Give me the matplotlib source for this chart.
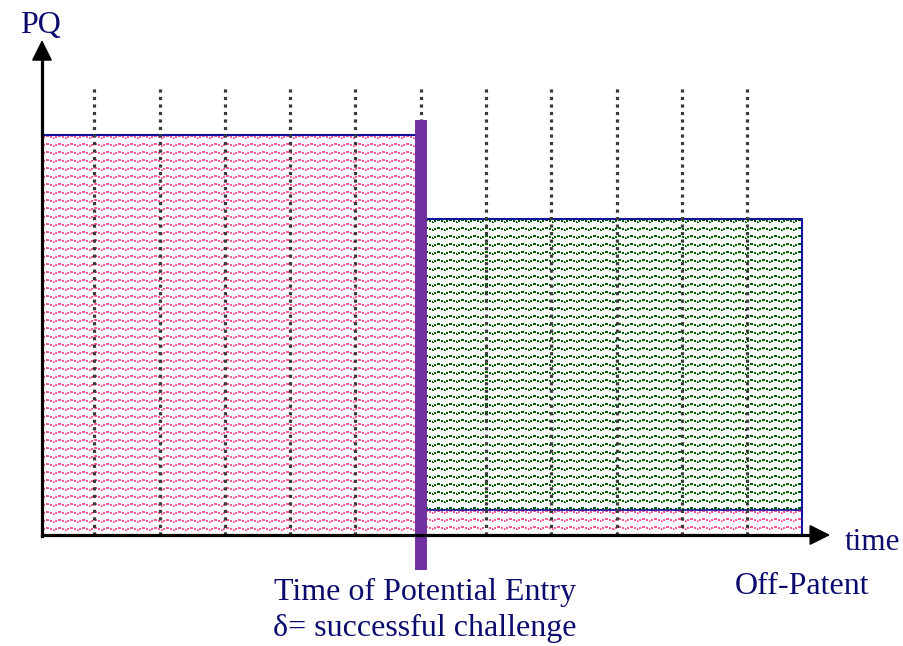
import numpy as np
import matplotlib
matplotlib.use("Agg")
import matplotlib.pyplot as plt

# time axis: dotted lines mark each period
period_marks = [1, 2, 3, 4, 5, 6, 7, 8, 9, 10, 11]
axis_start = 0.2
entry_time = 6.0
off_patent_time = 11.84

# revenue (PQ) levels
pq_monopoly = 100
pq_brand_after_entry = 79
pq_generic = 6.25
dotted_top = 111.75

labels = {
    "y": "PQ",
    "x": "time",
    "entry1": "Time of Potential Entry",
    "entry2": "δ= successful challenge",
    "off": "Off-Patent",
}

navy = "#0b0b6e"
outline = "#10109a"
pink = "#ff5a96"
green = "#006000"
purple = "#7030a0"

plt.rcParams["font.family"] = ["Liberation Serif", "DejaVu Serif"]

fig = plt.figure(figsize=(9.04, 6.46), dpi=100)
ax = fig.add_axes([0, 0, 1, 1])
ax.set_xlim(-0.443, 13.40)
ax.set_ylim(-27.75, 133.75)
ax.axis("off")


def wave_texture(x0, x1, y0, y1, color, rows=8):
    # pixel texture of small dashed waves filling the rectangle
    p0 = ax.transData.transform((x0, y0))
    p1 = ax.transData.transform((x1, y1))
    w = int(round(abs(p1[0] - p0[0])))
    h = int(round(abs(p1[1] - p0[1])))
    tile = np.zeros((rows, 12))
    tile[0:2, 4:7] = 1
    tile[1:3, 1:3] = 1
    tile[1:3, 8:10] = 1
    tile[2:4, 11] = 1
    tile[3, 0] = 1
    mask = np.tile(tile, (h // rows + 2, w // 12 + 2))[:h, :w]
    rgba = np.zeros((h, w, 4))
    rgba[..., :3] = matplotlib.colors.to_rgb(color)
    rgba[..., 3] = mask
    ax.imshow(rgba, extent=(x0, x1, y0, y1), interpolation="nearest",
              aspect="auto", zorder=1)


# monopoly period (pink)
wave_texture(axis_start, entry_time, 0, pq_monopoly, pink)
ax.plot([axis_start, entry_time], [pq_monopoly, pq_monopoly], color=outline, lw=1.5, zorder=2)

# after entry: generic strip (pink) and brand (green)
wave_texture(entry_time, off_patent_time, 0, pq_generic, pink)
wave_texture(entry_time, off_patent_time, pq_generic, pq_brand_after_entry, green)
ax.plot([entry_time, off_patent_time, off_patent_time],
        [pq_brand_after_entry, pq_brand_after_entry, 0], color=outline, lw=1.5, zorder=2)
ax.plot([entry_time, off_patent_time], [pq_generic, pq_generic], color=outline, lw=1.2, zorder=2)

# dotted period lines
for t in period_marks:
    ax.plot([t, t], [0, dotted_top], color="#3a3a3a", lw=2.3,
            linestyle=(0, (1, 1.35)), dash_capstyle="butt", zorder=3)

# potential entry bar
ax.plot([entry_time, entry_time], [-8.75, 103.75], color=purple, lw=8.6,
        solid_capstyle="butt", zorder=4)

# axes with arrows
ax.plot([axis_start, 12.0], [0, 0], color="black", lw=2.3, zorder=5)
ax.plot([axis_start, axis_start], [-0.3, 119], color="black", lw=2.3, zorder=5)
head = "-|>,head_length=0.5,head_width=0.25"
ax.annotate("", xy=(12.27, 0), xytext=(11.95, 0),
            arrowprops=dict(arrowstyle=head, mutation_scale=26,
                            color="black", lw=1.2, shrinkA=0, shrinkB=0), zorder=5)
ax.annotate("", xy=(axis_start, 123.75), xytext=(axis_start, 118),
            arrowprops=dict(arrowstyle=head, mutation_scale=26,
                            color="black", lw=1.2, shrinkA=0, shrinkB=0), zorder=5)

# text
ax.text(0.17, 127.5, labels["y"], color=navy, fontsize=23, ha="center", va="center")
ax.text(12.49, -2.0, labels["x"], color=navy, fontsize=22.5, ha="left", va="center")
ax.text(6.065, -14.25, labels["entry1"], color=navy, fontsize=23, ha="center", va="center")
ax.text(6.065, -23.25, labels["entry2"], color=navy, fontsize=23, ha="center", va="center")
ax.text(off_patent_time, -13.0, labels["off"], color=navy, fontsize=23, ha="center", va="center")

fig.savefig("out.png", dpi=100)
